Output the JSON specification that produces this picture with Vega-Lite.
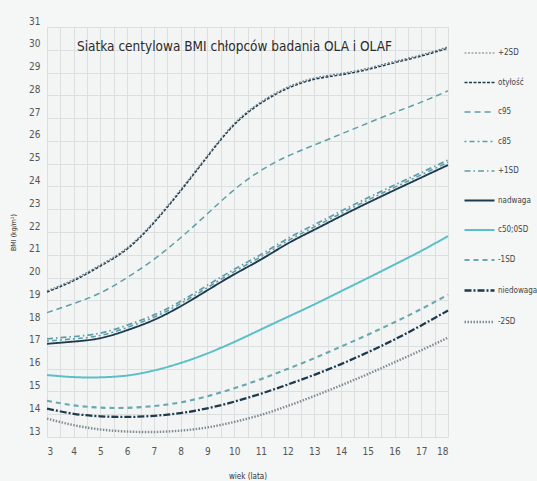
{
  "$schema": "https://vega.github.io/schema/vega-lite/v6.json",
  "width": 401,
  "height": 410,
  "autosize": {"type": "none"},
  "padding": {"left": 47, "top": 27, "right": 89, "bottom": 44},
  "background": "#f5f6f6",
  "title": {
    "text": "Siatka centylowa BMI chłopców badania OLA i OLAF",
    "orient": "top",
    "anchor": "middle",
    "offset": -37,
    "dx": -13,
    "font": "DejaVu Sans Condensed, sans-serif",
    "fontSize": 13.5,
    "fontWeight": "normal",
    "color": "#2b2b2b"
  },
  "config": {
    "view": {"stroke": null, "fill": "#f3f5f5"},
    "font": "DejaVu Sans Condensed, sans-serif",
    "axis": {
      "domain": false,
      "ticks": false,
      "gridColor": "#dcdfe0",
      "gridWidth": 1,
      "labelColor": "#555555",
      "labelFontSize": 10,
      "titleColor": "#333333",
      "titleFontWeight": "normal"
    },
    "legend": {
      "labelFontSize": 8,
      "labelColor": "#444444",
      "symbolType": "stroke",
      "symbolSize": 900,
      "rowPadding": 9.5,
      "labelOffset": 2
    }
  },
  "data": {
    "values": [
      {"age":3,"s":"+2SD","bmi":19.42},{"age":4,"s":"+2SD","bmi":19.92},{"age":5,"s":"+2SD","bmi":20.56},{"age":6,"s":"+2SD","bmi":21.31},{"age":7,"s":"+2SD","bmi":22.46},{"age":8,"s":"+2SD","bmi":23.86},{"age":9,"s":"+2SD","bmi":25.36},{"age":10,"s":"+2SD","bmi":26.76},{"age":11,"s":"+2SD","bmi":27.71},{"age":12,"s":"+2SD","bmi":28.36},{"age":13,"s":"+2SD","bmi":28.76},{"age":14,"s":"+2SD","bmi":28.96},{"age":15,"s":"+2SD","bmi":29.19},{"age":16,"s":"+2SD","bmi":29.49},{"age":17,"s":"+2SD","bmi":29.78},{"age":18,"s":"+2SD","bmi":30.13},
      {"age":3,"s":"otyłość","bmi":19.36},{"age":4,"s":"otyłość","bmi":19.86},{"age":5,"s":"otyłość","bmi":20.5},{"age":6,"s":"otyłość","bmi":21.25},{"age":7,"s":"otyłość","bmi":22.4},{"age":8,"s":"otyłość","bmi":23.8},{"age":9,"s":"otyłość","bmi":25.3},{"age":10,"s":"otyłość","bmi":26.7},{"age":11,"s":"otyłość","bmi":27.65},{"age":12,"s":"otyłość","bmi":28.3},{"age":13,"s":"otyłość","bmi":28.7},{"age":14,"s":"otyłość","bmi":28.9},{"age":15,"s":"otyłość","bmi":29.13},{"age":16,"s":"otyłość","bmi":29.43},{"age":17,"s":"otyłość","bmi":29.72},{"age":18,"s":"otyłość","bmi":30.07},
      {"age":3,"s":"c95","bmi":18.46},{"age":4,"s":"c95","bmi":18.86},{"age":5,"s":"c95","bmi":19.33},{"age":6,"s":"c95","bmi":20.0},{"age":7,"s":"c95","bmi":20.8},{"age":8,"s":"c95","bmi":21.75},{"age":9,"s":"c95","bmi":22.8},{"age":10,"s":"c95","bmi":23.85},{"age":11,"s":"c95","bmi":24.7},{"age":12,"s":"c95","bmi":25.33},{"age":13,"s":"c95","bmi":25.82},{"age":14,"s":"c95","bmi":26.3},{"age":15,"s":"c95","bmi":26.78},{"age":16,"s":"c95","bmi":27.25},{"age":17,"s":"c95","bmi":27.7},{"age":18,"s":"c95","bmi":28.2},
      {"age":3,"s":"c85","bmi":17.21},{"age":4,"s":"c85","bmi":17.31},{"age":5,"s":"c85","bmi":17.46},{"age":6,"s":"c85","bmi":17.81},{"age":7,"s":"c85","bmi":18.26},{"age":8,"s":"c85","bmi":18.86},{"age":9,"s":"c85","bmi":19.56},{"age":10,"s":"c85","bmi":20.26},{"age":11,"s":"c85","bmi":20.91},{"age":12,"s":"c85","bmi":21.61},{"age":13,"s":"c85","bmi":22.22},{"age":14,"s":"c85","bmi":22.82},{"age":15,"s":"c85","bmi":23.4},{"age":16,"s":"c85","bmi":23.96},{"age":17,"s":"c85","bmi":24.51},{"age":18,"s":"c85","bmi":25.06},
      {"age":3,"s":"+1SD","bmi":17.31},{"age":4,"s":"+1SD","bmi":17.41},{"age":5,"s":"+1SD","bmi":17.56},{"age":6,"s":"+1SD","bmi":17.91},{"age":7,"s":"+1SD","bmi":18.36},{"age":8,"s":"+1SD","bmi":18.96},{"age":9,"s":"+1SD","bmi":19.66},{"age":10,"s":"+1SD","bmi":20.36},{"age":11,"s":"+1SD","bmi":21.01},{"age":12,"s":"+1SD","bmi":21.71},{"age":13,"s":"+1SD","bmi":22.32},{"age":14,"s":"+1SD","bmi":22.92},{"age":15,"s":"+1SD","bmi":23.5},{"age":16,"s":"+1SD","bmi":24.06},{"age":17,"s":"+1SD","bmi":24.61},{"age":18,"s":"+1SD","bmi":25.16},
      {"age":3,"s":"nadwaga","bmi":17.09},{"age":4,"s":"nadwaga","bmi":17.19},{"age":5,"s":"nadwaga","bmi":17.34},{"age":6,"s":"nadwaga","bmi":17.69},{"age":7,"s":"nadwaga","bmi":18.14},{"age":8,"s":"nadwaga","bmi":18.74},{"age":9,"s":"nadwaga","bmi":19.44},{"age":10,"s":"nadwaga","bmi":20.14},{"age":11,"s":"nadwaga","bmi":20.79},{"age":12,"s":"nadwaga","bmi":21.49},{"age":13,"s":"nadwaga","bmi":22.1},{"age":14,"s":"nadwaga","bmi":22.7},{"age":15,"s":"nadwaga","bmi":23.28},{"age":16,"s":"nadwaga","bmi":23.84},{"age":17,"s":"nadwaga","bmi":24.39},{"age":18,"s":"nadwaga","bmi":24.94},
      {"age":3,"s":"c50;0SD","bmi":15.72},{"age":4,"s":"c50;0SD","bmi":15.63},{"age":5,"s":"c50;0SD","bmi":15.62},{"age":6,"s":"c50;0SD","bmi":15.7},{"age":7,"s":"c50;0SD","bmi":15.92},{"age":8,"s":"c50;0SD","bmi":16.25},{"age":9,"s":"c50;0SD","bmi":16.67},{"age":10,"s":"c50;0SD","bmi":17.17},{"age":11,"s":"c50;0SD","bmi":17.72},{"age":12,"s":"c50;0SD","bmi":18.27},{"age":13,"s":"c50;0SD","bmi":18.82},{"age":14,"s":"c50;0SD","bmi":19.4},{"age":15,"s":"c50;0SD","bmi":19.98},{"age":16,"s":"c50;0SD","bmi":20.57},{"age":17,"s":"c50;0SD","bmi":21.17},{"age":18,"s":"c50;0SD","bmi":21.82},
      {"age":3,"s":"-1SD","bmi":14.59},{"age":4,"s":"-1SD","bmi":14.39},{"age":5,"s":"-1SD","bmi":14.29},{"age":6,"s":"-1SD","bmi":14.28},{"age":7,"s":"-1SD","bmi":14.36},{"age":8,"s":"-1SD","bmi":14.52},{"age":9,"s":"-1SD","bmi":14.79},{"age":10,"s":"-1SD","bmi":15.14},{"age":11,"s":"-1SD","bmi":15.54},{"age":12,"s":"-1SD","bmi":15.99},{"age":13,"s":"-1SD","bmi":16.46},{"age":14,"s":"-1SD","bmi":16.97},{"age":15,"s":"-1SD","bmi":17.49},{"age":16,"s":"-1SD","bmi":18.04},{"age":17,"s":"-1SD","bmi":18.62},{"age":18,"s":"-1SD","bmi":19.25},
      {"age":3,"s":"niedowaga","bmi":14.25},{"age":4,"s":"niedowaga","bmi":14.02},{"age":5,"s":"niedowaga","bmi":13.91},{"age":6,"s":"niedowaga","bmi":13.88},{"age":7,"s":"niedowaga","bmi":13.93},{"age":8,"s":"niedowaga","bmi":14.05},{"age":9,"s":"niedowaga","bmi":14.26},{"age":10,"s":"niedowaga","bmi":14.55},{"age":11,"s":"niedowaga","bmi":14.9},{"age":12,"s":"niedowaga","bmi":15.3},{"age":13,"s":"niedowaga","bmi":15.73},{"age":14,"s":"niedowaga","bmi":16.2},{"age":15,"s":"niedowaga","bmi":16.72},{"age":16,"s":"niedowaga","bmi":17.28},{"age":17,"s":"niedowaga","bmi":17.9},{"age":18,"s":"niedowaga","bmi":18.55},
      {"age":3,"s":"-2SD","bmi":13.81},{"age":4,"s":"-2SD","bmi":13.52},{"age":5,"s":"-2SD","bmi":13.33},{"age":6,"s":"-2SD","bmi":13.24},{"age":7,"s":"-2SD","bmi":13.22},{"age":8,"s":"-2SD","bmi":13.28},{"age":9,"s":"-2SD","bmi":13.42},{"age":10,"s":"-2SD","bmi":13.66},{"age":11,"s":"-2SD","bmi":13.97},{"age":12,"s":"-2SD","bmi":14.36},{"age":13,"s":"-2SD","bmi":14.8},{"age":14,"s":"-2SD","bmi":15.27},{"age":15,"s":"-2SD","bmi":15.76},{"age":16,"s":"-2SD","bmi":16.28},{"age":17,"s":"-2SD","bmi":16.81},{"age":18,"s":"-2SD","bmi":17.36}
    ]
  },
  "mark": {"type": "line", "interpolate": "natural"},
  "encoding": {
    "x": {
      "field": "age",
      "type": "quantitative",
      "scale": {"domain": [3, 18], "nice": false, "zero": false},
      "axis": {
        "values": [3,3.5,4,4.5,5,5.5,6,6.5,7,7.5,8,8.5,9,9.5,10,10.5,11,11.5,12,12.5,13,13.5,14,14.5,15,15.5,16,16.5,17,17.5,18],
        "labelExpr": "datum.value % 1 == 0 ? format(datum.value, 'd') : ''",
        "labelOverlap": false,
        "labelPadding": 9,
        "title": "wiek (lata)",
        "titleFontSize": 8,
        "titlePadding": 16
      }
    },
    "y": {
      "field": "bmi",
      "type": "quantitative",
      "scale": {"domain": [13, 31], "nice": false, "zero": false},
      "axis": {
        "values": [13,14,15,16,17,18,19,20,21,22,23,24,25,26,27,28,29,30,31],
        "labelOffset": -6,
        "labelPadding": 7,
        "labelOverlap": false,
        "title": "BMI (kg/m²)",
        "titleFontSize": 7,
        "titlePadding": 12
      }
    },
    "color": {
      "field": "s",
      "type": "nominal",
      "scale": {
        "domain": ["+2SD","otyłość","c95","c85","+1SD","nadwaga","c50;0SD","-1SD","niedowaga","-2SD"],
        "range": ["#6f7f86","#1e3a4c","#5f9ea6","#5f9ea6","#5f9ea6","#1d3a4f","#5cbfc6","#6aa8ae","#1e3a4c","#7f8c92"]
      },
      "legend": {"title": null, "orient": "none", "legendX": 416, "legendY": 10}
    },
    "strokeDash": {
      "field": "s",
      "type": "nominal",
      "scale": {
        "domain": ["+2SD","otyłość","c95","c85","+1SD","nadwaga","c50;0SD","-1SD","niedowaga","-2SD"],
        "range": [[2,1.5],[3,1.5],[6,4],[2,3,5,3],[6,3,1.5,3],[1,0],[1,0],[5,4],[7,2,2,2],[1.5,1.5]]
      },
      "legend": {"title": null, "orient": "none", "legendX": 416, "legendY": 10}
    },
    "strokeWidth": {
      "field": "s",
      "type": "nominal",
      "scale": {
        "domain": ["+2SD","otyłość","c95","c85","+1SD","nadwaga","c50;0SD","-1SD","niedowaga","-2SD"],
        "range": [1.2,2.4,1.5,1.5,1.5,2,1.5,1.3,2.4,1.2]
      },
      "legend": {"title": null, "orient": "none", "legendX": 416, "legendY": 10}
    }
  }
}
